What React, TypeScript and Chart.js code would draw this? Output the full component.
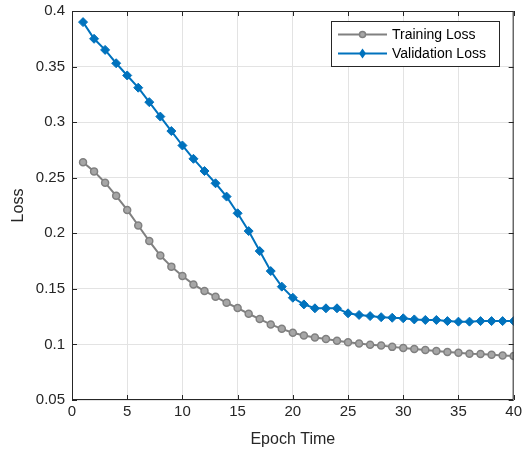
import React, { useEffect, useRef } from "react";
import { Chart, registerables } from "chart.js";

Chart.register(...registerables);

const epochs = Array.from({ length: 40 }, (_, i) => i + 1);
const trainingLoss = [
  0.264, 0.2557, 0.2455, 0.2337, 0.221, 0.207, 0.193, 0.18, 0.17, 0.1615,
  0.154, 0.148, 0.143, 0.1375, 0.1327, 0.1276, 0.1228, 0.118, 0.114, 0.1105,
  0.108, 0.1063, 0.1048, 0.1033, 0.102, 0.1008, 0.0997, 0.099, 0.0978, 0.0967,
  0.0958, 0.095, 0.094, 0.0931, 0.0925, 0.0916, 0.0913, 0.0907, 0.09, 0.0895,
];
const validationLoss = [
  0.39, 0.375, 0.365, 0.353, 0.342, 0.331, 0.318, 0.305, 0.292, 0.279,
  0.267, 0.256, 0.245, 0.233, 0.218, 0.202, 0.184, 0.166, 0.152, 0.142,
  0.136, 0.1325, 0.1325, 0.1325, 0.128, 0.1265, 0.1255, 0.1245, 0.124, 0.1235,
  0.1225, 0.122, 0.122, 0.121, 0.1205, 0.1205, 0.121, 0.121, 0.121, 0.121,
];
const seriesNames = ["Training Loss", "Validation Loss"];
const xTitle = "Epoch Time";
const yTitle = "Loss";

const FONT = "'Liberation Sans', Arial, Helvetica, sans-serif";
const GRAY = "#808080";
const BLUE = "#0072BD";
const AXIS = "#262626";
const SHIFT_Y = 5;

const boxPlugin = {
  id: "matlabBox",
  afterDraw(chart: any) {
    const { ctx, chartArea: a, scales } = chart;
    const xs = scales.x;
    const ys = scales.y;
    ctx.save();
    ctx.strokeStyle = AXIS;
    ctx.lineWidth = 1;
    ctx.beginPath();
    ctx.rect(a.left + 0.5, a.top + 0.5, a.right - a.left - 1, a.bottom - a.top - 1);
    ctx.stroke();
    const tl = 5;
    ctx.beginPath();
    xs.ticks.forEach((t: any) => {
      const px = Math.round(xs.getPixelForValue(t.value)) + 0.5;
      ctx.moveTo(px, a.bottom);
      ctx.lineTo(px, a.bottom - tl);
      ctx.moveTo(px, a.top);
      ctx.lineTo(px, a.top + tl);
    });
    ys.ticks.forEach((t: any) => {
      const py = Math.round(ys.getPixelForValue(t.value)) + 0.5;
      ctx.moveTo(a.left, py);
      ctx.lineTo(a.left + tl, py);
      ctx.moveTo(a.right, py);
      ctx.lineTo(a.right - tl, py);
    });
    ctx.stroke();

    // legend
    const lx = 331.5, ly = 21.5 + SHIFT_Y, lw = 168, lh = 45;
    ctx.fillStyle = "#ffffff";
    ctx.fillRect(lx, ly, lw, lh);
    ctx.strokeStyle = AXIS;
    ctx.strokeRect(lx, ly, lw, lh);
    const items = [
      { name: seriesNames[0], color: GRAY, style: "circle" },
      { name: seriesNames[1], color: BLUE, style: "diamond" },
    ];
    items.forEach((it, i) => {
      const cy = ly + 13 + i * 19;
      ctx.strokeStyle = it.color;
      ctx.lineWidth = 2;
      ctx.beginPath();
      ctx.moveTo(338, cy);
      ctx.lineTo(387, cy);
      ctx.stroke();
      ctx.fillStyle = it.color;
      ctx.beginPath();
      if (it.style === "circle") {
        ctx.arc(362.5, cy, 3, 0, Math.PI * 2);
        ctx.fillStyle = "#a6a6a6";
        ctx.fill();
        ctx.lineWidth = 1.5;
        ctx.strokeStyle = it.color;
        ctx.stroke();
      } else {
        ctx.moveTo(362.5, cy - 5);
        ctx.lineTo(366, cy);
        ctx.lineTo(362.5, cy + 5);
        ctx.lineTo(359, cy);
        ctx.closePath();
        ctx.fill();
      }
      ctx.fillStyle = "#000000";
      ctx.font = `14px ${FONT}`;
      ctx.textBaseline = "middle";
      ctx.textAlign = "left";
      ctx.fillText(it.name, 392, cy + 0.5);
    });
    ctx.restore();
  },
};

export default function App() {
  const ref = useRef<HTMLCanvasElement | null>(null);
  useEffect(() => {
    if (!ref.current) return;
    const chart = new Chart(ref.current, {
      type: "line",
      data: {
        datasets: [
          {
            label: seriesNames[0],
            data: epochs.map((e, i) => ({ x: e, y: trainingLoss[i] })),
            borderColor: GRAY,
            backgroundColor: "#a6a6a6",
            pointBorderColor: GRAY,
            pointBackgroundColor: "#a6a6a6",
            borderWidth: 2,
            pointStyle: "circle",
            pointRadius: 3.5,
            pointBorderWidth: 1.5,
            tension: 0,
          },
          {
            label: seriesNames[1],
            data: epochs.map((e, i) => ({ x: e, y: validationLoss[i] })),
            borderColor: BLUE,
            backgroundColor: BLUE,
            pointBorderColor: BLUE,
            pointBackgroundColor: BLUE,
            borderWidth: 2,
            pointStyle: "rectRot",
            pointRadius: 4.5,
            pointBorderWidth: 1,
            tension: 0,
          },
        ],
      },
      options: {
        animation: false,
        responsive: false,
        devicePixelRatio: 1,
        layout: { padding: { top: 0, right: 0, left: 0, bottom: 0 } },
        plugins: { legend: { display: false }, tooltip: { enabled: false } },
        scales: {
          x: {
            type: "linear",
            min: 0,
            max: 40,
            afterFit: (s: any) => {
              s.height = 56;
            },
            ticks: {
              stepSize: 5,
              color: "#262626",
              font: { family: FONT, size: 15 },
              padding: 3,
              maxRotation: 0,
            },
            grid: { color: "#e3e3e3", lineWidth: 1, drawTicks: false },
            border: { display: false },
            title: {
              display: true,
              text: xTitle,
              color: "#262626",
              font: { family: FONT, size: 16 },
              padding: { top: 0, bottom: 7 },
            },
          },
          y: {
            type: "linear",
            min: 0.05,
            max: 0.4,
            afterFit: (s: any) => {
              s.width = 72;
            },
            ticks: {
              stepSize: 0.05,
              color: "#262626",
              font: { family: FONT, size: 15 },
              padding: 7,
              callback: (v: any) => String(+Number(v).toFixed(2)),
            },
            grid: { color: "#e3e3e3", lineWidth: 1, drawTicks: false },
            border: { display: false },
            title: {
              display: true,
              text: yTitle,
              color: "#262626",
              font: { family: FONT, size: 16 },
              padding: { top: 9, bottom: 0 },
            },
          },
        },
      },
      plugins: [boxPlugin],
    } as any);
    return () => chart.destroy();
  }, []);
  return (
    <div style={{ position: "absolute", left: 0, top: 0, width: 522, height: 456, overflow: "hidden", background: "#fff" }}>
      <canvas
        ref={ref}
        width={525}
        height={456 + SHIFT_Y}
        style={{ display: "block", position: "absolute", left: 0, top: -SHIFT_Y }}
      />
    </div>
  );
}
